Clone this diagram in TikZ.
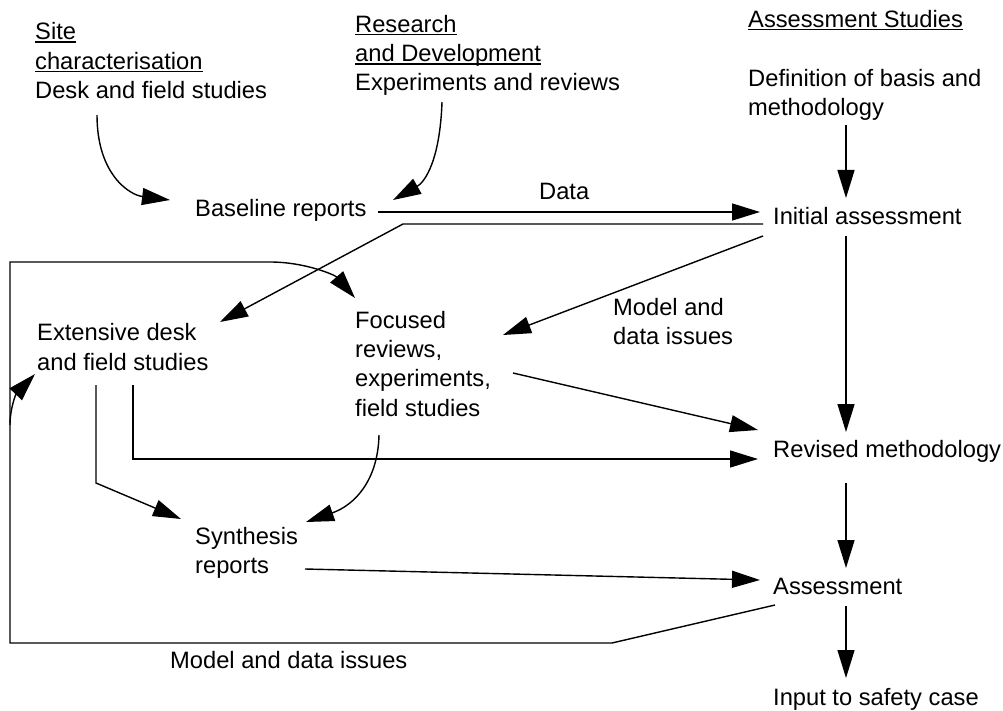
\documentclass[tikz,border=0pt]{standalone}
\usepackage{fontspec}
\setmainfont{Liberation Sans}
\usetikzlibrary{arrows.meta}
% word-style underline at a fixed depth below the baseline
\newcommand\ulword[1]{\setbox0\hbox{#1}\rlap{\rule[-3pt]{\wd0}{1.4pt}}\box0}
\begin{document}
\begin{tikzpicture}[x=1pt,y=-1pt,
  txt/.style={font=\fontsize{23.7}{29.3}\selectfont, inner sep=0pt, anchor=base west, align=left},
  link/.style={line width=1.4pt, line join=miter},
  arr/.style={link, -{Triangle[length=28pt,width=17pt]}}]
\useasboundingbox (0,0) rectangle (1003,711);

% column headings and texts (multi-line nodes sit on the baseline of their last line)
\node[txt] (site) at (35,98.5)  {\ulword{Site}\\\ulword{characterisation}\\Desk and field studies};
\node[txt] (rd)   at (355,91) {\ulword{Research}\\\ulword{and Development}\\Experiments and reviews};
\node[txt] (ashead) at (748,27.5) {\ulword{Assessment Studies}};
\node[txt] (def)  at (748,116) {Definition of basis and\\methodology};
\node[txt] (base) at (195,217) {Baseline reports};
\node[txt] (data) at (539,200) {Data};
\node[txt] (init) at (773,225) {Initial assessment};
\node[txt] (ext)  at (37,370) {Extensive desk\\and field studies};
\node[txt] (foc)  at (355,416) {Focused\\reviews,\\experiments,\\field studies};
\node[txt] (mdia) at (613,344.5) {Model and\\data issues};
\node[txt] (rev)  at (773,457) {Revised methodology};
\node[txt] (syn)  at (195,573.5) {Synthesis\\reports};
\node[txt] (ass)  at (773,594) {Assessment};
\node[txt] (mdib) at (170,668) {Model and data issues};
\node[txt] (inp)  at (773,705) {Input to safety case};

% connection ports
\coordinate (siteOut) at (97,115);
\coordinate (baseInL) at (170,200);
\coordinate (rdOut)   at (442,102);
\coordinate (baseInR) at (393,200);
\coordinate (baseOut) at (378,212);
\coordinate (initInL) at (760,212);
\coordinate (initOutA) at (763,224);
\coordinate (bendA)   at (403,224);
\coordinate (extInR)  at (220,322);
\coordinate (initOutB) at (763,236);
\coordinate (focInR)  at (503,335);
\coordinate (defOut)  at (846,125);
\coordinate (initInT) at (846,198);
\coordinate (initOutD) at (846,236);
\coordinate (revInT)  at (846,432);
\coordinate (focOutR) at (513,373);
\coordinate (revInA)  at (758,430);
\coordinate (extOutA) at (133,385);
\coordinate (bendB)   at (133,459);
\coordinate (revInB)  at (758,459);
\coordinate (extOutB) at (96,385);
\coordinate (bendC)   at (96,483);
\coordinate (synInL)  at (181,519);
\coordinate (focOutD) at (379,435);
\coordinate (synInR)  at (306,522);
\coordinate (synOut)  at (305,569);
\coordinate (assInL)  at (760,580);
\coordinate (revOut)  at (846,483);
\coordinate (assInT)  at (846,568);
\coordinate (assOutD) at (846,606);
\coordinate (inpIn)   at (846,678);
\coordinate (assOutL) at (775,605);
\coordinate (loopA)   at (612,643);
\coordinate (loopB)   at (10,643);
\coordinate (loopC)   at (10,262);
\coordinate (loopD)   at (270,262);
\coordinate (focInT)  at (355,298);
\coordinate (loopE)   at (10,425);
\coordinate (extInL)  at (35,374);

% site characterisation and R&D feed the baseline reports
\draw[arr] (siteOut) .. controls (97,175) and (130,195) .. (baseInL);
\draw[arr] (rdOut) .. controls (440,160) and (425,182) .. (baseInR);
\draw[arr] (baseOut) -- (initInL);

% initial assessment feeds back to the studies
\draw[arr] (initOutA) -- (bendA) -- (extInR);
\draw[arr] (initOutB) -- (focInR);

% assessment column
\draw[arr] (defOut) -- (initInT);
\draw[arr] (initOutD) -- (revInT);
\draw[arr] (revOut) -- (assInT);
\draw[arr] (assOutD) -- (inpIn);

% studies into revised methodology and synthesis
\draw[arr] (focOutR) -- (revInA);
\draw[arr] (extOutA) -- (bendB) -- (revInB);
\draw[arr] (extOutB) -- (bendC) -- (synInL);
\draw[arr] (focOutD) .. controls (378,480) and (355,505) .. (synInR);
\draw[arr] (synOut) -- (assInL);

% model and data issues loop back
\draw[arr] (assOutL) -- (loopA) -- (loopB) -- (loopC) -- (loopD)
  .. controls (305,262) and (335,275) .. (focInT);
\draw[arr] (loopE) .. controls (10,408) and (16,394) .. (extInL);
\end{tikzpicture}
\end{document}
